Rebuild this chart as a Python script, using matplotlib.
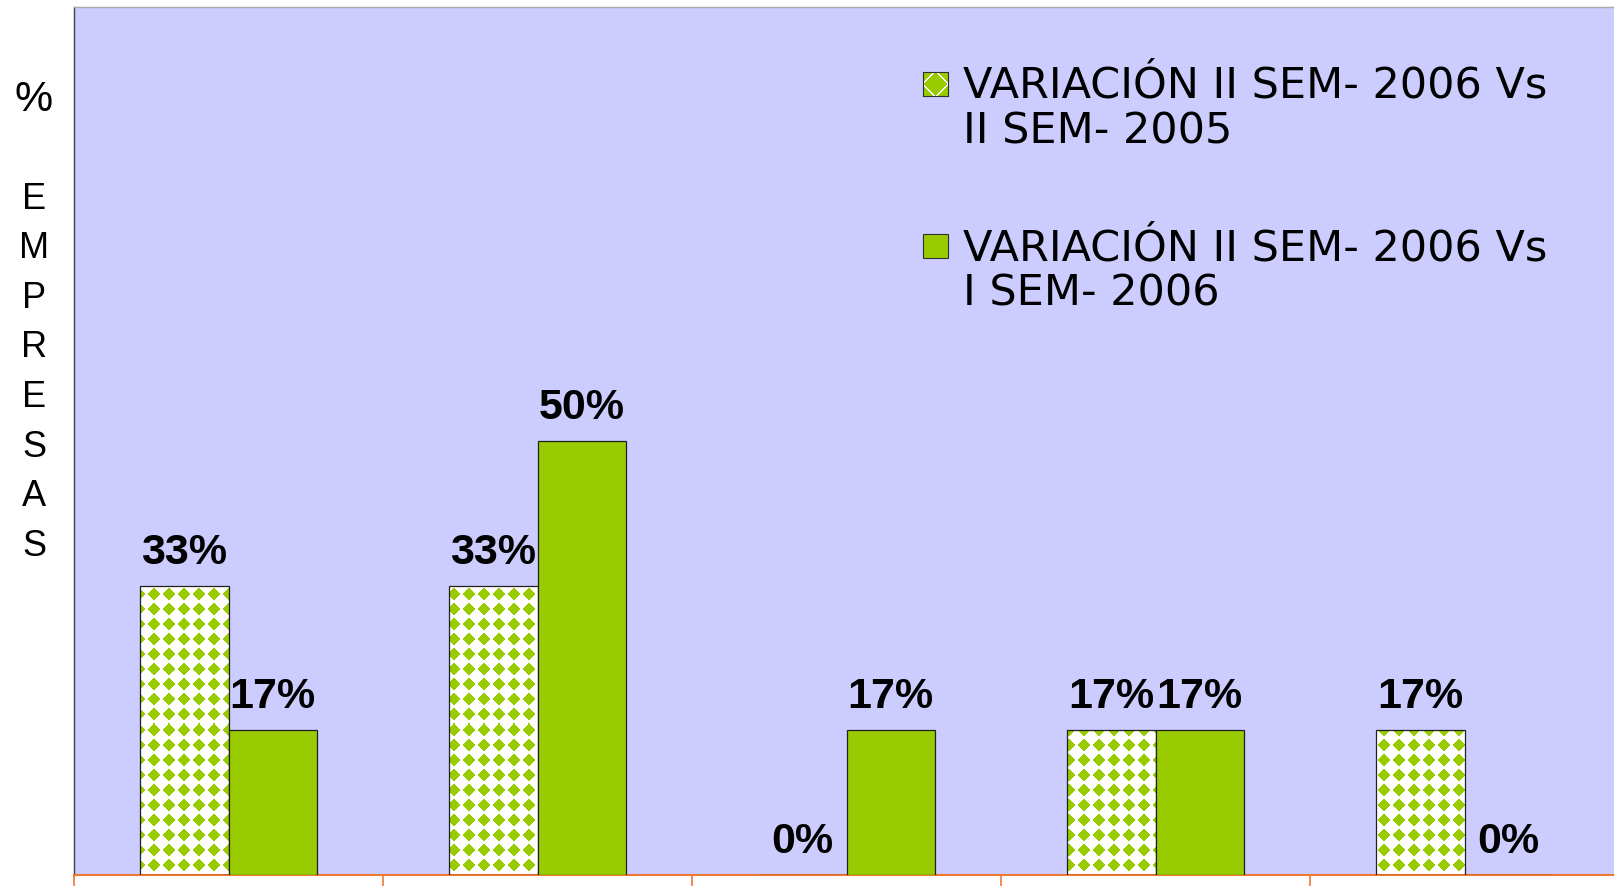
import numpy as np
import matplotlib
matplotlib.use("Agg")
import matplotlib.pyplot as plt
from matplotlib.patches import Rectangle

# ---------------- data ----------------
categories = ["1", "2", "3", "4", "5"]          # category slots (no visible labels)
series_names = ["VARIACIÓN II SEM- 2006 Vs\nII SEM- 2005",
                "VARIACIÓN II SEM- 2006 Vs\nI SEM- 2006"]
vs_2005 = [33.3, 33.3, 0.0, 16.7, 16.7]       # patterned bars
vs_2006 = [16.7, 50.0, 16.7, 16.7, 0.0]       # solid bars
y_letters = ["%", "", "E", "M", "P", "R", "E", "S", "A", "S"]

# ---------------- style ----------------
W, H = 1615, 886
BG = "#CCCCFF"
GREEN = "#99CC00"
ORANGE = "#F07830"
FONT = "Liberation Sans"
GREEN_RGB = matplotlib.colors.to_rgb(GREEN)

fig = plt.figure(figsize=(W / 100, H / 100), dpi=100, facecolor="white")
ax_l, ax_b = 74 / W, (H - 875) / H
ax_w, ax_h = 1545 / W, 868 / H
ax = fig.add_axes([ax_l, ax_b, ax_w, ax_h])
ax.set_facecolor(BG)

x = np.arange(len(categories))
bw = 0.285
xlim = (-0.5, len(categories) - 0.5)
ylim = (0, 100)


def diamond_grid(h, w, s=15.0, R=6.5, x0=0.0, y0=0.0):
    """Green diamonds on a square lattice (spacing s px), white elsewhere."""
    yy, xx = np.mgrid[0:h, 0:w] + 0.5
    dx = (xx - x0) - np.round((xx - x0) / s) * s
    dy = (yy - y0) - np.round((yy - y0) / s) * s
    g = np.abs(dx) + np.abs(dy) <= R
    img = np.ones((h, w, 3))
    img[g] = GREEN_RGB
    return img


def diamond_marker(h, w, s=25.0, r=0.46):
    yy, xx = np.mgrid[0:h, 0:w] + 0.5
    u = (xx + yy) / s
    v = (xx - yy) / s
    d = np.maximum(np.abs(u - np.round(u)), np.abs(v - np.round(v)))
    img = np.ones((h, w, 3))
    img[d <= r] = GREEN_RGB
    return img


pattern = diamond_grid(868, 1545, x0=5.0, y0=3.0)

bars1 = ax.bar(x - bw / 2, vs_2005, width=bw, facecolor="none",
               edgecolor="#202020", linewidth=0.9, zorder=3)
bars2 = ax.bar(x + bw / 2, vs_2006, width=bw, facecolor=GREEN,
               edgecolor="#202020", linewidth=0.9, zorder=3)

for b in bars1:
    im = ax.imshow(pattern, extent=(xlim[0], xlim[1], ylim[0], ylim[1]),
                   aspect="auto", interpolation="nearest", zorder=2,
                   origin="upper")
    im.set_clip_path(b)

ax.set_xlim(*xlim)
ax.set_ylim(*ylim)

# data labels
for bars, vals in ((bars1, vs_2005), (bars2, vs_2006)):
    for b, v in zip(bars, vals):
        ax.annotate(f"{round(v)}%", xy=(b.get_x() + b.get_width() / 2, v),
                    xytext=(0, 16), textcoords="offset points",
                    ha="center", va="baseline", fontsize=31,
                    fontweight="bold", family=FONT, color="black", zorder=5)

# axes decoration
ax.set_xticks(np.arange(len(categories) + 1) - 0.5)
ax.set_xticklabels([])
ax.set_yticks([])
ax.tick_params(axis="x", direction="out", length=8, width=1.2, colors=ORANGE)
ax.spines["bottom"].set_color(ORANGE)
ax.spines["bottom"].set_linewidth(1.5)
ax.spines["left"].set_color("#404040")
ax.spines["left"].set_linewidth(1.0)
ax.spines["top"].set_color("#A8A8A8")
ax.spines["top"].set_linewidth(1.0)
ax.spines["right"].set_visible(False)

# vertical y-axis label, one character per line
for i, ch in enumerate(y_letters):
    if not ch:
        continue
    yc = 100 + i * 49.6
    fig.text(34 / W, 1 - yc / H, ch, ha="center", va="center",
             fontsize=31 if ch == "%" else 26, family=FONT, color="black")

# legend (manual)
leg_entries = [(72, 98), (234, 260)]
for k, ((mtop, base), name) in enumerate(zip(leg_entries, series_names)):
    mx0, mw, mh = 923, 25, 24
    if k == 0:
        lax = fig.add_axes([mx0 / W, 1 - (mtop + mh) / H, mw / W, mh / H])
        lax.imshow(diamond_marker(mh, mw), interpolation="nearest", aspect="auto")
        lax.set_xticks([]); lax.set_yticks([])
        for sp in lax.spines.values():
            sp.set_color("#303030"); sp.set_linewidth(0.8)
    else:
        fig.patches.append(Rectangle((mx0 / W, 1 - (mtop + mh) / H), mw / W, mh / H,
                                     transform=fig.transFigure, facecolor=GREEN,
                                     edgecolor="#303030", linewidth=0.8))
    for j, line in enumerate(name.split("\n")):
        fig.text(963 / W, 1 - (base + j * 46) / H, line, ha="left",
                 va="baseline", fontsize=31, family="DejaVu Sans", color="black")

fig.savefig("out.png", dpi=100, facecolor="white")
